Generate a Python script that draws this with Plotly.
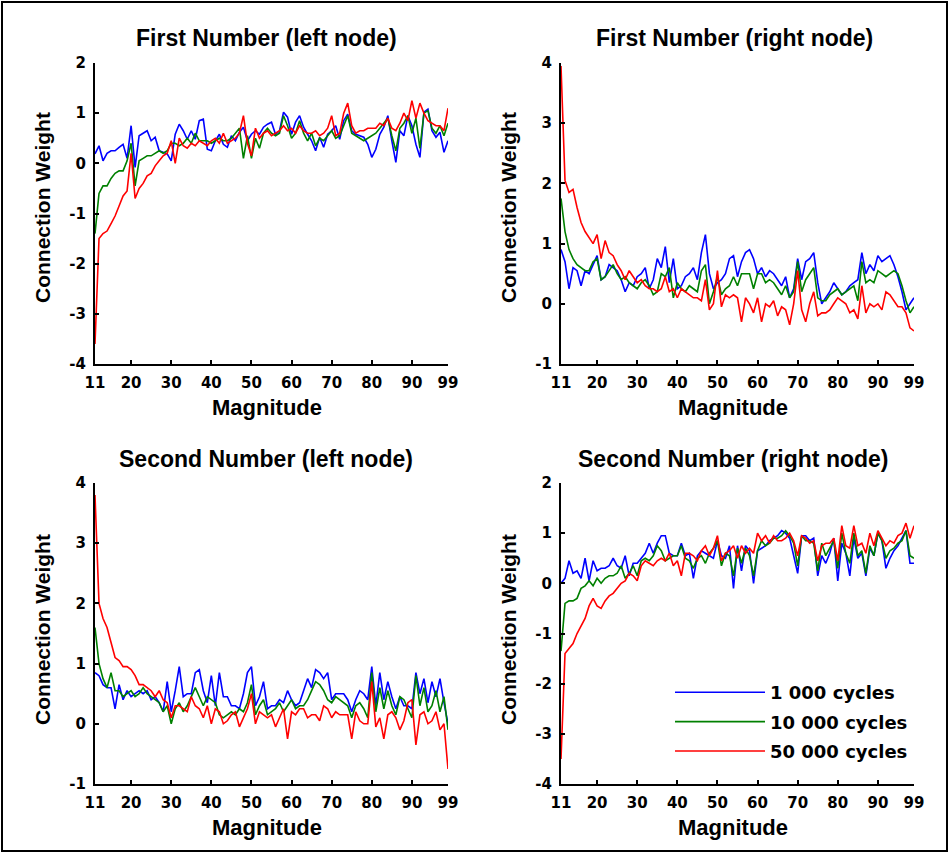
import plotly.graph_objects as go

magnitude = list(range(11, 100))

# ---- First Number (left node) ----
fl_1000 = [0.19, 0.35, 0.05, 0.2, 0.25, 0.25, 0.32, 0.38, 0.1, 0.75,
           -0.08, 0.55, 0.6, 0.65, 0.45, 0.52, 0.25, 0.22, 0.19, 0.05,
           0.58, 0.78, 0.65, 0.48, 0.65, 0.48, 0.85, 0.88, 0.28, 0.25,
           0.45, 0.58, 0.38, 0.32, 0.55, 0.45, 0.62, 0.72, 0.45, 0.58,
           0.65, 0.58, 0.72, 0.78, 0.82, 0.58, 0.65, 1.02, 0.92, 0.58,
           0.82, 0.95, 0.72, 0.58, 0.45, 0.25, 0.52, 0.32, 0.58, 0.65,
           0.75, 0.48, 0.85, 0.98, 0.65, 0.58, 0.55, 0.52, 0.38, 0.12,
           0.28, 0.58, 0.72, 0.95, 0.45, 0.02, 0.65, 0.55, 0.95, 0.75,
           0.38, 0.12, 1.02, 1.08, 0.65, 0.52, 0.62, 0.22, 0.45]
fl_10000 = [-1.4, -0.6, -0.45, -0.45, -0.3, -0.2, -0.15, -0.15, 0.05, 0.4,
            -0.45, 0.05, 0.1, 0.15, 0.15, 0.2, 0.25, 0.2, 0.25, 0.4,
            0.4, 0.35, 0.4, 0.5, 0.4, 0.6, 0.45, 0.45, 0.45, 0.4,
            0.45, 0.5, 0.45, 0.45, 0.5, 0.6, 0.7, 0.1, 0.55, 0.1,
            0.5, 0.3, 0.6, 0.7, 0.6, 0.55, 0.6, 0.95, 0.75, 0.5,
            0.6, 0.85, 0.6, 0.45, 0.6, 0.35, 0.5, 0.45, 0.55, 0.65,
            0.5, 0.55, 0.75, 0.95, 0.6, 0.55, 0.5, 0.45, 0.5, 0.55,
            0.6, 0.7, 0.8, 0.9, 0.55, 0.25, 0.7, 0.8, 0.95, 0.6,
            0.9, 0.3, 1.0, 1.05, 0.7, 0.6, 0.75, 0.55, 0.8]
fl_50000 = [-3.6, -1.5, -1.4, -1.35, -1.2, -1.05, -0.85, -0.65, -0.55, 0.2,
            -0.7, -0.5, -0.4, -0.25, -0.2, -0.05, 0.05, 0.15, 0.2, 0.45,
            0.0, 0.5, 0.35, 0.3, 0.4, 0.35, 0.45, 0.4, 0.35, 0.45,
            0.5, 0.4, 0.6, 0.4, 0.45, 0.5, 0.6, 0.95, 0.4, 0.15,
            0.7, 0.5, 0.6, 0.65, 0.55, 0.6, 0.65, 0.75, 0.65, 0.7,
            0.6, 0.75, 0.65, 0.6, 0.6, 0.65, 0.55, 0.6, 0.7, 0.95,
            0.55, 0.6, 1.0, 1.2, 0.75, 0.6, 0.65, 0.65, 0.7, 0.7,
            0.7, 0.8, 0.75, 0.9, 0.7, 0.65, 0.8, 1.0, 0.85, 1.25,
            0.9, 1.2, 1.0, 0.85, 0.8, 0.75, 0.75, 0.65, 1.1]

# ---- First Number (right node) ----
fr_1000 = [0.9, 0.7, 0.25, 0.6, 0.55, 0.3, 0.55, 0.5, 0.65, 0.8,
           0.4, 0.45, 0.65, 0.6, 0.55, 0.4, 0.2, 0.35, 0.3, 0.45,
           0.5, 0.6, 0.25, 0.4, 0.75, 0.6, 0.95, 0.35, 0.75, 0.25,
           0.3, 0.45, 0.5, 0.6, 0.4, 0.85, 1.15, 0.5, 0.25, 0.35,
           0.4, 0.5, 0.75, 0.8, 0.45, 0.7, 0.85, 0.9, 0.75, 0.5,
           0.6, 0.45, 0.55, 0.5, 0.4, 0.3, 0.45, 0.1, 0.25, 0.75,
           0.4, 0.7, 0.75, 0.85, 0.35, 0.0, 0.1, 0.2, 0.35, 0.25,
           0.15, 0.2, 0.3, 0.35, 0.4, 0.85, 0.5, 0.65, 0.55, 0.8,
           0.7, 0.75, 0.8, 0.65, 0.45, 0.2, -0.1, 0.0, 0.1]
fr_10000 = [1.75, 1.2, 0.9, 0.75, 0.65, 0.6, 0.55, 0.55, 0.7, 0.75,
            0.4, 0.45, 0.55, 0.65, 0.5, 0.4, 0.45, 0.35, 0.3, 0.25,
            0.35, 0.4, 0.3, 0.15, 0.2, 0.5, 0.45, 0.6, 0.1, 0.35,
            0.25, 0.2, 0.3, 0.25, 0.2, 0.55, 0.65, 0.0, 0.2, 0.45,
            0.15, 0.25, 0.3, 0.45, 0.3, 0.5, 0.5, 0.5, 0.25, 0.5,
            0.5, 0.35, 0.4, 0.35, 0.25, 0.15, 0.3, 0.1, 0.2, 0.7,
            0.2, 0.4, 0.5, 0.6, 0.1, 0.05, 0.05, 0.15, 0.2, 0.25,
            0.15, 0.2, 0.25, 0.3, 0.05, 0.7, 0.35, 0.4, 0.35, 0.55,
            0.5, 0.45, 0.5, 0.55, 0.5, 0.3, 0.05, -0.15, -0.05]
fr_50000 = [3.95, 2.05, 1.85, 1.9, 1.6, 1.35, 1.2, 1.1, 1.0, 1.15,
            0.75, 1.05, 0.85, 0.8, 0.65, 0.55, 0.4, 0.55, 0.45, 0.35,
            0.4, 0.3, 0.25, 0.25, 0.2, 0.25, 0.45, 0.2, 0.25, 0.1,
            0.25, 0.2, 0.15, 0.1, 0.1, 0.05, 0.4, -0.1, 0.0, 0.55,
            -0.05, 0.15, 0.1, 0.15, 0.1, -0.3, 0.1, 0.0, -0.15, 0.1,
            -0.3, 0.0, -0.05, 0.05, -0.2, -0.05, -0.1, -0.35, 0.0, 0.55,
            -0.1, -0.3, 0.0, 0.2, -0.2, -0.15, -0.15, -0.1, 0.0, 0.1,
            0.05, 0.0, -0.15, -0.1, -0.25, 0.3, -0.15, 0.0, -0.05, 0.0,
            -0.1, 0.2, 0.15, 0.05, -0.05, -0.05, -0.15, -0.4, -0.45]

# ---- Second Number (left node) ----
sl_1000 = [0.85, 0.8, 0.65, 0.6, 0.6, 0.25, 0.65, 0.4, 0.55, 0.45,
           0.5, 0.55, 0.5, 0.55, 0.4, 0.45, 0.35, 0.2, 0.7, 0.2,
           0.55, 0.95, 0.45, 0.5, 0.5, 0.85, 0.9, 0.55, 0.35, 0.8,
           0.3, 0.85, 0.45, 0.45, 0.3, 0.3, 0.25, 0.5, 0.85, 0.95,
           0.3, 0.45, 0.7, 0.25, 0.3, 0.3, 0.4, 0.35, 0.55, 0.4,
           0.3, 0.35, 0.55, 0.75, 0.6, 0.9, 0.85, 0.75, 0.85, 0.4,
           0.5, 0.5, 0.5, 0.4, 0.2, 0.4, 0.55, 0.5, 0.4, 0.95,
           0.3, 0.85, 0.4, 0.7, 0.45, 0.25, 0.45, 0.3, 0.3, 0.25,
           0.85, 0.5, 0.75, 0.35, 0.7, 0.45, 0.75, 0.35, 0.0]
sl_10000 = [1.6, 1.0, 0.75, 0.6, 0.85, 0.55, 0.55, 0.45, 0.5, 0.55,
            0.45, 0.5, 0.6, 0.5, 0.45, 0.4, 0.35, 0.2, 0.3, 0.0,
            0.25, 0.35, 0.2, 0.3, 0.45, 0.6, 0.45, 0.3, 0.45, 0.4,
            0.35, 0.15, 0.1, 0.15, 0.2, 0.15, 0.25, 0.2, 0.35, 0.65,
            0.15, 0.3, 0.4, 0.15, 0.2, 0.25, 0.35, 0.2, 0.3, 0.4,
            0.25, 0.3, 0.3, 0.4, 0.55, 0.7, 0.65, 0.55, 0.4, 0.35,
            0.45, 0.4, 0.35, 0.3, 0.1, 0.3, 0.35, 0.25, 0.1, 0.85,
            0.2, 0.6, 0.25, 0.55, 0.3, 0.15, 0.45, 0.4, 0.25, 0.1,
            0.8, 0.3, 0.6, 0.2, 0.3, 0.55, 0.2, 0.45, -0.1]
sl_50000 = [3.8, 2.0, 1.75, 1.6, 1.35, 1.1, 1.05, 0.95, 0.95, 0.9,
            0.8, 0.65, 0.65, 0.6, 0.55, 0.45, 0.55, 0.4, 0.35, 0.1,
            0.3, 0.3, 0.25, 0.2, 0.45, 0.3, 0.25, 0.1, 0.3, 0.0,
            0.25, 0.2, 0.0, 0.05, 0.15, 0.2, -0.05, 0.1, 0.25, 0.5,
            0.0, 0.2, 0.15, 0.1, 0.15, -0.05, 0.1, 0.25, -0.25, 0.2,
            0.15, 0.25, 0.25, 0.1, 0.15, 0.15, 0.05, 0.3, 0.25, 0.1,
            0.2, 0.15, 0.15, 0.15, -0.25, 0.2, 0.05, 0.0, 0.0, 0.7,
            -0.05, 0.1, -0.25, 0.15, 0.2, 0.1, -0.1, 0.05, 0.35, 0.4,
            -0.35, 0.15, 0.2, 0.0, 0.05, 0.2, -0.1, 0.0, -0.75]

# ---- Second Number (right node) ----
sr_1000 = [0.0, 0.1, 0.45, 0.2, 0.25, 0.1, 0.5, 0.05, 0.45, 0.25,
           0.3, 0.3, 0.35, 0.5, 0.35, 0.3, 0.55, 0.15, 0.4, 0.4,
           0.5, 0.6, 0.8, 0.6, 0.8, 0.95, 0.95, 0.6, 0.55, 0.55,
           0.8, 0.55, 0.6, 0.1, 0.55, 0.65, 0.6, 0.55, 0.5, 0.85,
           0.55, 0.5, 0.75, -0.1, 0.75, 0.25, 0.75, 0.65, 0.0, 0.65,
           0.7, 0.75, 0.85, 0.9, 0.95, 1.05, 1.0, 0.9, 0.55, 0.2,
           0.95, 0.95, 0.85, 0.9, 0.15, 0.55, 0.4, 0.6, 0.9, 0.05,
           0.8, 0.6, 0.15, 0.9, 0.5, 0.6, 0.15, 0.7, 0.55, 1.0,
           0.85, 0.3, 0.5, 0.65, 0.75, 0.9, 1.05, 0.4, 0.4]
sr_10000 = [-1.35, -0.4, -0.35, -0.35, -0.3, -0.1, -0.05, 0.05, -0.05, 0.1,
            0.0, 0.1, 0.15, 0.15, 0.2, 0.35, 0.1, 0.2, 0.35, 0.15,
            0.45, 0.5, 0.45, 0.55, 0.75, 0.65, 0.45, 0.5, 0.55, 0.55,
            0.75, 0.5, 0.45, 0.3, 0.5, 0.55, 0.4, 0.6, 0.7, 0.85,
            0.35, 0.6, 0.55, 0.15, 0.7, 0.4, 0.7, 0.55, 0.15, 0.65,
            0.85, 0.75, 0.8, 0.9, 0.9, 0.95, 1.05, 0.95, 0.8, 0.35,
            0.95, 0.85, 0.85, 0.8, 0.25, 0.8, 0.55, 0.7, 0.85, 0.3,
            1.0, 0.6, 0.4, 1.0, 0.55, 0.65, 0.2, 0.75, 0.55, 1.0,
            0.85, 0.5, 0.65, 0.7, 0.8, 0.85, 1.05, 0.55, 0.5]
sr_50000 = [-3.5, -1.4, -1.3, -1.2, -1.0, -0.85, -0.7, -0.45, -0.3, -0.45,
            -0.5, -0.35, -0.25, -0.2, -0.1, 0.0, 0.05, 0.2, 0.15, 0.05,
            0.35, 0.45, 0.4, 0.35, 0.45, 0.5, 0.45, 0.6, 0.35, 0.45,
            0.15, 0.6, 0.6, 0.55, 0.45, 0.65, 0.75, 0.55, 0.7, 0.95,
            0.45, 0.6, 0.65, 0.75, 0.5, 0.75, 0.6, 0.7, 0.6, 1.0,
            0.85, 0.95, 0.8, 0.95, 0.85, 0.85, 0.9, 1.0, 0.85, 0.55,
            0.95, 0.9, 0.8, 0.85, 0.45, 0.75, 0.8, 0.8, 0.9, 0.45,
            1.15, 0.75, 0.7, 1.15, 0.75, 0.8, 0.6, 1.0, 0.75, 1.05,
            0.9, 0.75, 0.85, 0.8, 0.95, 1.0, 1.2, 0.9, 1.15]

series_names = ["1 000 cycles", "10 000 cycles", "50 000 cycles"]
series_colors = ["#0000FF", "#008000", "#FF0000"]

panel_titles = ["First Number (left node)", "First Number (right node)",
                "Second Number (left node)", "Second Number (right node)"]
panel_data = [(fl_1000, fl_10000, fl_50000), (fr_1000, fr_10000, fr_50000),
              (sl_1000, sl_10000, sl_50000), (sr_1000, sr_10000, sr_50000)]
y_ticks_a = [-4, -3, -2, -1, 0, 1, 2]
y_ticks_b = [-1, 0, 1, 2, 3, 4]
panel_yticks = [y_ticks_a, y_ticks_b, y_ticks_b, y_ticks_a]
x_tickvals = [11, 20, 30, 40, 50, 60, 70, 80, 90, 99]

W, H = 950, 854
# pixel boxes for each panel: (x_left, x_right, y_top, y_bottom)
boxes = [(95, 448, 63, 364), (561, 914, 63, 364),
         (95, 448, 483, 784), (561, 914, 483, 784)]
title_cx = [266, 734, 266, 733]
title_cy = [38, 38, 459, 459]
xlab_cx = [267, 733, 267, 733]
xlab_cy = [407, 407, 827, 827]
ylab_cx = [42, 508, 42, 508]
ylab_cy = [208, 208, 630, 630]

TICKF = "DejaVu Sans"
TEXTF = "Liberation Sans, Arial, sans-serif"
fig = go.Figure()
layout = dict(width=W, height=H, autosize=False,
              margin=dict(l=0, r=0, t=0, b=0, pad=0, autoexpand=False),
              paper_bgcolor="white", plot_bgcolor="white",
              font=dict(family=TICKF, color="black"), annotations=[], shapes=[])

for i in range(4):
    n = "" if i == 0 else str(i + 1)
    data = panel_data[i]
    for k in range(3):
        fig.add_trace(go.Scatter(
            x=magnitude, y=data[k], mode="lines", name=series_names[k],
            line=dict(color=series_colors[k], width=1.6),
            xaxis="x" + n, yaxis="y" + n,
            showlegend=(i == 3), legendgroup=series_names[k]))
    x0, x1, y0, y1 = boxes[i]
    yt = panel_yticks[i]
    axis_common = dict(showgrid=False, zeroline=False, showline=True, automargin=False,
                       linecolor="black", linewidth=2, ticks="inside",
                       ticklen=4, tickwidth=2, tickcolor="black",
                       tickfont=dict(family=TICKF, size=15, color="black", weight="bold"))
    layout["xaxis" + n] = dict(axis_common, domain=[x0 / W, x1 / W], range=[11, 99],
                               tickvals=x_tickvals, anchor="y" + n, ticklabelstandoff=4)
    layout["yaxis" + n] = dict(axis_common, domain=[1 - y1 / H, 1 - y0 / H],
                               range=[yt[0], yt[-1]], tickvals=yt,
                               ticktext=[str(v) for v in yt], anchor="x" + n,
                               ticklabelstandoff=4)
    layout["annotations"].append(dict(
        text="<b>" + panel_titles[i] + "</b>", x=title_cx[i] / W, y=1 - title_cy[i] / H,
        xref="paper", yref="paper", showarrow=False,
        font=dict(size=23, family=TEXTF), xanchor="center", yanchor="middle"))
    layout["annotations"].append(dict(
        text="<b>Magnitude</b>", x=xlab_cx[i] / W, y=1 - xlab_cy[i] / H,
        xref="paper", yref="paper", showarrow=False,
        font=dict(size=22, family=TEXTF), xanchor="center", yanchor="middle"))
    layout["annotations"].append(dict(
        text="<b>Connection Weight</b>", x=ylab_cx[i] / W, y=1 - ylab_cy[i] / H,
        xref="paper", yref="paper", showarrow=False, textangle=-90,
        font=dict(size=21, family=TEXTF), xanchor="center", yanchor="middle"))

layout["shapes"].append(dict(type="rect", xref="paper", yref="paper",
                             x0=2 / W, x1=947 / W, y0=1 - 851 / H, y1=1 - 2 / H,
                             line=dict(color="black", width=2)))
layout["legend"] = dict(x=670 / W, y=1 - 674 / H, xanchor="left", yanchor="top",
                        bgcolor="rgba(0,0,0,0)", itemwidth=90, tracegroupgap=3,
                        traceorder="grouped",
                        font=dict(family=TICKF, size=18, color="black", weight="bold"))
fig.update_layout(**layout)
fig.write_html("out.html", config={"displayModeBar": False},
               post_script="document.body.style.margin='0';")
